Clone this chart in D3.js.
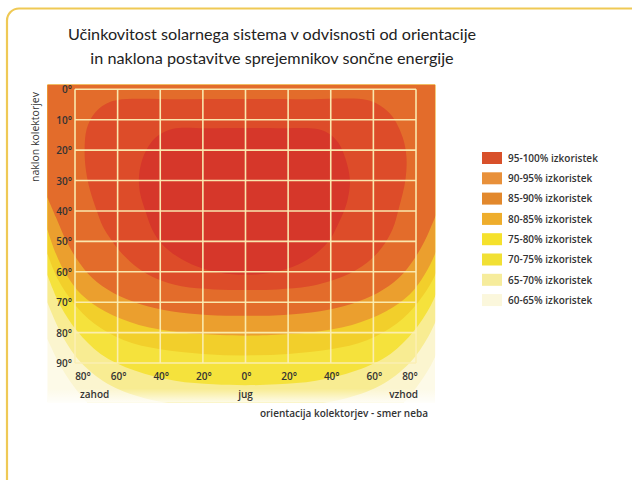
<!DOCTYPE html>
<html><head><meta charset="utf-8">
<script src="https://cdn.jsdelivr.net/npm/d3@7"></script>
<style>body{margin:0;background:#fff;} svg{display:block}</style>
</head><body>
<script>
// ---------- data ----------
const titleLines = ["Učinkovitost solarnega sistema v odvisnosti od orientacije",
                    "in naklona postavitve sprejemnikov sončne energije"];
const azimuthTicks = [-80, -60, -40, -20, 0, 20, 40, 60, 80];
const azimuthTickLabels = ["80°", "60°", "40°", "20°", "0°", "20°", "40°", "60°", "80°"];
const tiltTicks = [0, 10, 20, 30, 40, 50, 60, 70, 80, 90];
const tiltTickLabels = ["0°", "10°", "20°", "30°", "40°", "50°", "60°", "70°", "80°", "90°"];
const directionLabels = ["zahod", "jug", "vzhod"];
const directionAzimuths = [-80, 0, 80];
const bandLabels = ["95-100% izkoristek", "90-95% izkoristek", "85-90% izkoristek", "80-85% izkoristek",
                    "75-80% izkoristek", "70-75% izkoristek", "65-70% izkoristek", "60-65% izkoristek"];
const bandThresholds = [95, 90, 85, 80, 75, 70, 65, 60];
const bandColors = ["#d6372a", "#dd4c29", "#e36c2b", "#eb9f2e", "#f2cf2b", "#f5e23c", "#f8ec92", "#fbf5cf"];
const belowColor = "#fdfae8";
const legendColors = ["#d8502a", "#e8903a", "#e2882c", "#eead2c", "#f5e12c", "#f1e034", "#f6ec9c", "#fbf7dc"];

// closed boundaries [azimuth, tilt]
const boundary95 = [[-34,13],[-18,12.8],[0,12.7],[18,12.8],[33,13],[39,14.5],[43.5,17.5],[47,23],[49,30],[48,36],
  [46.5,39.5],[43,45],[39.5,49.5],[34,53.5],[25,57.5],[12,60.3],[0,61],[-12,60.3],[-23,58.2],[-32,55],[-39,51],
  [-43.5,46.5],[-46.5,41],[-49.5,34],[-50,29],[-49,24.5],[-46.5,20],[-42,15.8]];
const boundary90 = [[-60,3.5],[-30,3.3],[0,3.2],[30,3.3],[57,3.5],[63.5,5.5],[69,9],[73.7,15.7],[75.5,22],[75,30],
  [72,39],[69,46],[64,52],[57,57],[46,61.5],[30,64.8],[15,65.8],[0,66],[-15,65.8],[-30,64.8],[-42,62.2],[-50,59],
  [-58,54],[-63,49.5],[-67,45],[-70,39.5],[-73,33],[-74.8,27],[-75.5,20],[-74.5,13],[-71,8],[-66,5]];
// open boundaries (left edge to right edge), region above is the higher band
const boundary85 = [[-93,35.5],[-89,42],[-84,50],[-79,56],[-72,62],[-62,67],[-50,70.5],[-35,73],[-18,74.2],[0,74.5],
  [18,74.2],[35,73],[50,70.5],[62,67],[72,62],[79,56],[84,50],[89,42],[93,35.5]];
const boundary80 = [[-93,46],[-89,54],[-84,61],[-77,67.5],[-66,73],[-50,77.5],[-30,80],[-12,80.8],[0,81],
  [12,80.8],[30,80],[50,77.5],[66,73],[77,67.5],[84,61],[89,54],[93,46]];
const boundary75 = [[-93,54],[-88,62.5],[-81,70],[-71,77],[-57,82.5],[-40,85.5],[-20,87],[0,87.5],
  [20,87],[40,85.5],[57,82.5],[71,77],[81,70],[88,62.5],[93,54]];
const boundary70 = [[-93,61],[-87,71],[-79,79.5],[-68,87],[-52,92.5],[-33,95.8],[-15,97],[0,97.3],
  [15,97],[33,95.8],[52,92.5],[68,87],[79,79.5],[87,71],[93,61]];
const boundary65 = [[-93,70],[-86,81],[-77,90],[-63,97.5],[-45,102],[-25,104],[0,104.5],
  [25,104],[45,102],[63,97.5],[77,90],[86,81],[93,70]];
const boundary60 = [[-93,82],[-86,92],[-78,100],[-70,106],[-58,112],[0,118],[58,112],[70,106],[78,100],[86,92],[93,82]];

const fieldAz = [-93, 89];
const fieldTilt = [-1.5, 103];

// ---------- drawing ----------
const W = 632, H = 480;
const svg = d3.select("body").append("svg").attr("width", W).attr("height", H);

// golden frame
svg.append("rect").attr("x", 7).attr("y", 8.5).attr("width", 660).attr("height", 500)
  .attr("rx", 12).attr("fill", "#fff").attr("stroke", "#efc955").attr("stroke-width", 2.2);

// title
svg.selectAll("text.title").data(titleLines).join("text").attr("class", "title")
  .attr("x", 272).attr("y", (d, i) => 40 + i * 23.5)
  .attr("text-anchor", "middle").attr("font-family", "Lato, 'Open Sans', sans-serif")
  .attr("font-size", 16.2).attr("fill", "#222").text(d => d);

const x = d3.scaleLinear().domain([-80, 80]).range([75, 416]);
const y = d3.scaleLinear().domain([0, 90]).range([89.3, 363]);

const fx0 = x(fieldAz[0]), fx1 = x(fieldAz[1]), fy0 = y(fieldTilt[0]), fy1 = y(fieldTilt[1]);
const defs = svg.append("defs");
defs.append("clipPath").attr("id", "field").append("rect")
  .attr("x", fx0).attr("y", fy0).attr("width", fx1 - fx0).attr("height", fy1 - fy0);
const fade = defs.append("linearGradient").attr("id", "fade").attr("x1", 0).attr("x2", 0).attr("y1", 0).attr("y2", 1);
fade.append("stop").attr("offset", "0%").attr("stop-color", "#fff").attr("stop-opacity", 0);
fade.append("stop").attr("offset", "100%").attr("stop-color", "#fff").attr("stop-opacity", 0.8);

const g = svg.append("g").attr("clip-path", "url(#field)");
g.append("rect").attr("x", fx0).attr("y", fy0).attr("width", fx1 - fx0).attr("height", fy1 - fy0).attr("fill", belowColor);

const openBands = [
  {pts: boundary60, color: bandColors[7]},
  {pts: boundary65, color: bandColors[6]},
  {pts: boundary70, color: bandColors[5]},
  {pts: boundary75, color: bandColors[4]},
  {pts: boundary80, color: bandColors[3]},
  {pts: boundary85, color: bandColors[2]}
];
const area = d3.area().x(d => x(d[0])).y0(y(-10)).y1(d => y(d[1])).curve(d3.curveCatmullRom.alpha(0.5));
g.selectAll("path.open").data(openBands).join("path").attr("class", "open")
  .attr("d", d => area(d.pts)).attr("fill", d => d.color);

const closedLine = d3.line().x(d => x(d[0])).y(d => y(d[1])).curve(d3.curveCatmullRomClosed.alpha(0.5));
const closedBands = [
  {pts: boundary90, color: bandColors[1]},
  {pts: boundary95, color: bandColors[0]}
];
g.selectAll("path.closed").data(closedBands).join("path").attr("class", "closed")
  .attr("d", d => closedLine(d.pts)).attr("fill", d => d.color);
g.append("rect").attr("x", fx0).attr("y", fy1 - 14).attr("width", fx1 - fx0).attr("height", 14).attr("fill", "url(#fade)");

// grid
const grid = svg.append("g").attr("stroke", "#fbeeb4").attr("stroke-width", 1.6).attr("stroke-opacity", 0.95);
grid.selectAll("line.v").data(azimuthTicks).join("line").attr("class", "v")
  .attr("x1", d => x(d)).attr("x2", d => x(d)).attr("y1", y(0)).attr("y2", y(90));
grid.selectAll("line.h").data(tiltTicks).join("line").attr("class", "h")
  .attr("x1", x(-80)).attr("x2", x(80)).attr("y1", d => y(d)).attr("y2", d => y(d));

const labelFont = "'Open Sans', sans-serif";
const labelColor = "#333";
// y tick labels
svg.selectAll("text.yt").data(tiltTicks).join("text").attr("class", "yt")
  .attr("x", 72).attr("y", d => y(d) + 4).attr("text-anchor", "end")
  .attr("font-family", labelFont).attr("font-size", 10).attr("font-weight", 600).attr("fill", labelColor)
  .text((d, i) => tiltTickLabels[i]);
// x tick labels
svg.selectAll("text.xt").data(azimuthTicks).join("text").attr("class", "xt")
  .attr("x", d => x(d) + (d === -80 ? 8 : d === 80 ? -6 : 1)).attr("y", y(90) + 16.5).attr("text-anchor", "middle")
  .attr("font-family", labelFont).attr("font-size", 10).attr("font-weight", 600).attr("fill", labelColor)
  .text((d, i) => azimuthTickLabels[i]);
// direction labels
svg.selectAll("text.dir").data(directionLabels).join("text").attr("class", "dir")
  .attr("x", (d, i) => x(directionAzimuths[i]) + (i === 0 ? 5 : i === 2 ? 2 : 0))
  .attr("y", 397.5).attr("text-anchor", (d, i) => i === 0 ? "start" : i === 1 ? "middle" : "end")
  .attr("font-family", labelFont).attr("font-size", 10).attr("font-weight", 600).attr("fill", labelColor)
  .text(d => d);
// axis titles
svg.append("text").attr("x", 428).attr("y", 416.5).attr("text-anchor", "end")
  .attr("font-family", labelFont).attr("font-size", 10).attr("font-weight", 600).attr("fill", labelColor)
  .text("orientacija kolektorjev - smer neba");
svg.append("text").attr("transform", "translate(39,137) rotate(-90)").attr("text-anchor", "middle")
  .attr("font-family", labelFont).attr("font-size", 10.5).attr("fill", labelColor)
  .text("naklon kolektorjev");

// legend
const leg = svg.append("g").attr("transform", "translate(482,152)");
const items = leg.selectAll("g").data(bandLabels).join("g").attr("transform", (d, i) => `translate(0,${i * 20.3})`);
items.append("rect").attr("width", 20).attr("height", 12).attr("fill", (d, i) => legendColors[i]);
items.append("text").attr("x", 26).attr("y", 9.8).attr("font-family", labelFont).attr("font-size", 10)
  .attr("font-weight", 600).attr("fill", labelColor).text(d => d);
</script>
</body></html>
